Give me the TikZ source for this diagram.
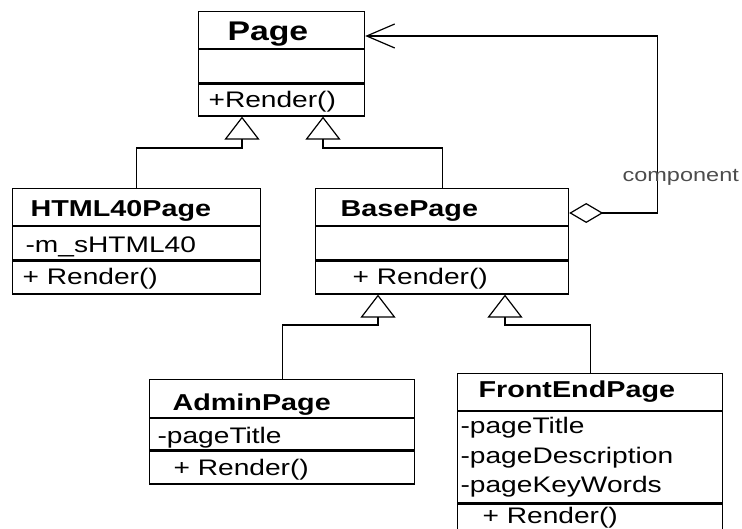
\documentclass[tikz,border=0pt]{standalone}
\usepackage{fontspec}
\setmainfont{Liberation Sans}[FakeStretch=1.25]
\usetikzlibrary{positioning,arrows.meta}

\begin{document}
\begin{tikzpicture}[x=1pt, y=-1pt, line width=1.2pt,
  cls/.style = {draw, anchor=north west, inner sep=0pt},
  ttl/.style = {anchor=base west, inner sep=0pt, font=\fontsize{23}{27}\selectfont\bfseries},
  mem/.style = {anchor=base west, inner sep=0pt, font=\fontsize{22.5}{27}\selectfont},
  inh/.style = {-{Triangle[open, length=23pt, width=35pt]}},
  agg/.style = {{Diamond[open, length=34pt, width=20pt]}-{Straight Barb[length=28pt, width=24pt]}}]
\useasboundingbox (0,0) rectangle (742,529);

% Page
\node[cls, minimum width=166pt, minimum height=37pt] (page) at (198,11) {};
\node[cls, minimum width=166pt, minimum height=33pt, below=0pt of page] (pageA) {};
\node[cls, minimum width=166pt, minimum height=32pt, below=0pt of pageA] (pageO) {};
\node[ttl, font=\fontsize{27}{31}\selectfont\bfseries] (pageT) at (227,41) {Page};
\node[mem] (pageR) at (208,108) {+Render()};

% HTML40Page
\node[cls, minimum width=248pt, minimum height=37pt] (html) at (12,188) {};
\node[cls, minimum width=248pt, minimum height=33pt, below=0pt of html] (htmlA) {};
\node[cls, minimum width=248pt, minimum height=33pt, below=0pt of htmlA] (htmlO) {};
\node[ttl] (htmlT) at (30,217) {HTML40Page};
\node[mem] (htmlM) at (25,253) {-m\_sHTML40};
\node[mem] (htmlR) at (22,285) {+ Render()};

% BasePage
\node[cls, minimum width=253pt, minimum height=37pt] (base) at (315,188) {};
\node[cls, minimum width=253pt, minimum height=33pt, below=0pt of base] (baseA) {};
\node[cls, minimum width=253pt, minimum height=33pt, below=0pt of baseA] (baseO) {};
\node[ttl] (baseT) at (340,217) {BasePage};
\node[mem] (baseR) at (352,285) {+ Render()};

% AdminPage
\node[cls, minimum width=265pt, minimum height=38pt] (admin) at (149,379) {};
\node[cls, minimum width=265pt, minimum height=31pt, below=0pt of admin] (adminA) {};
\node[cls, minimum width=265pt, minimum height=33pt, below=0pt of adminA] (adminO) {};
\node[ttl] (adminT) at (172,410) {AdminPage};
\node[mem] (adminM) at (157,443) {-pageTitle};
\node[mem] (adminR) at (173,475) {+ Render()};

% FrontEndPage
\node[cls, minimum width=265pt, minimum height=37pt] (front) at (457,373) {};
\node[cls, minimum width=265pt, minimum height=91pt, below=0pt of front] (frontA) {};
\node[cls, minimum width=265pt, minimum height=27pt, below=0pt of frontA] (frontO) {};
\node[ttl] (frontT) at (478,398) {FrontEndPage};
\node[mem] (frontM1) at (460,433) {-pageTitle};
\node[mem] (frontM2) at (460,463) {-pageDescription};
\node[mem] (frontM3) at (460,492) {-pageKeyWords};
\node[mem] (frontR) at (482,523) {+ Render()};

% attach points
\coordinate (pgL) at ([xshift=44pt]pageO.south west);
\coordinate (pgR) at ([xshift=125pt]pageO.south west);
\coordinate (pgE) at ([yshift=-25pt]page.north east);
\coordinate (bpL) at ([xshift=63pt]baseO.south west);
\coordinate (bpR) at ([xshift=190pt]baseO.south west);
\coordinate (bpE) at ([yshift=-25pt]base.north east);

% generalisation
\draw[inh] (html.north) -- ++(0,-40) -| (pgL);
\draw[inh] (base.north) -- ++(0,-40) -| (pgR);
\draw[inh] (admin.north) -- ++(0,-54) -| (bpL);
\draw[inh] (front.north) -- ++(0,-48) -| (bpR);

% aggregation
\draw[agg] (bpE) -- ++(88,0) |- (pgE);
\node[anchor=base west, inner sep=0pt, text=black!70, font=\fontsize{18.8}{22}\selectfont] (comp) at (622,182) {component};
\end{tikzpicture}
\end{document}
